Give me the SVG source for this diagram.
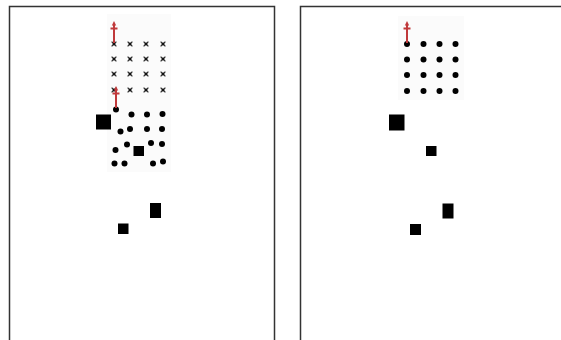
<svg xmlns="http://www.w3.org/2000/svg" width="561" height="340" viewBox="0 0 561 340">
<defs>
<style>
.frame{fill:none;stroke:#333;stroke-width:1.5}
.x{stroke:#333;stroke-width:1.3;fill:none}
.dot{fill:#000}
.sq{fill:#000}
.red{stroke:#c0393b;stroke-width:2;fill:none}
.redh{fill:#c0393b}
.bg{fill:#f8f8f8}
</style>
<g id="xm"><path class="x" d="M-2.4,-2.4L2.4,2.4M-2.4,2.4L2.4,-2.4"/><rect x="-1.3" y="-1.3" width="2.6" height="2.6" fill="#111"/></g>
<g id="arr"><path class="red" d="M0,0V-18M-3.5,-14.5H3.5"/><path class="redh" d="M-2.2,-17.5L0,-22L2.2,-17.5Z"/></g>
</defs>
<rect width="561" height="340" fill="#fff"/>
<g id="left-panel">
<rect class="frame" x="9.5" y="6.5" width="265" height="340"/>
<rect class="bg" x="107" y="14" width="64" height="158" opacity="0.5"/>
<g id="left-xgrid">
<use href="#xm" x="114" y="44"/><use href="#xm" x="130" y="44"/><use href="#xm" x="146" y="44"/><use href="#xm" x="163" y="44"/>
<use href="#xm" x="114" y="59"/><use href="#xm" x="130" y="59"/><use href="#xm" x="146" y="59"/><use href="#xm" x="163" y="59"/>
<use href="#xm" x="114" y="74"/><use href="#xm" x="130" y="74"/><use href="#xm" x="146" y="74"/><use href="#xm" x="163" y="74"/>
<use href="#xm" x="114" y="90"/><use href="#xm" x="130" y="90"/><use href="#xm" x="146" y="90"/><use href="#xm" x="163" y="90"/>
</g>
<g id="left-dots">
<circle class="dot" cx="116" cy="109.5" r="3"/>
<circle class="dot" cx="131.5" cy="114.5" r="3"/><circle class="dot" cx="147" cy="114.5" r="3"/><circle class="dot" cx="162.5" cy="114" r="3"/>
<circle class="dot" cx="120.5" cy="131.5" r="3"/><circle class="dot" cx="130" cy="129" r="3"/><circle class="dot" cx="147" cy="129" r="3"/><circle class="dot" cx="162" cy="129" r="3"/>
<circle class="dot" cx="115.5" cy="150" r="3"/><circle class="dot" cx="127" cy="144.5" r="3"/><circle class="dot" cx="151" cy="143" r="3"/><circle class="dot" cx="162" cy="144" r="3"/>
<circle class="dot" cx="114.5" cy="163.5" r="3"/><circle class="dot" cx="124.5" cy="163.5" r="3"/><circle class="dot" cx="153" cy="163.5" r="3"/><circle class="dot" cx="163" cy="161.5" r="3"/>
</g>
<rect class="sq" x="96" y="114.5" width="15" height="15"/>
<rect class="sq" x="133.5" y="146" width="10.5" height="10"/>
<rect class="sq" x="150" y="203" width="11" height="15"/>
<rect class="sq" x="118" y="223.5" width="10.5" height="10.5"/>
<use href="#arr" x="114" y="43"/>
<use href="#arr" x="116" y="108"/>
</g>
<g id="right-panel">
<rect class="frame" x="300.5" y="6.5" width="280" height="340"/>
<rect class="bg" x="398" y="16" width="66" height="84" opacity="0.5"/>
<g id="right-dots">
<circle class="dot" cx="407" cy="44" r="3"/><circle class="dot" cx="423.5" cy="44" r="3"/><circle class="dot" cx="439.5" cy="44" r="3"/><circle class="dot" cx="455.5" cy="44" r="3"/>
<circle class="dot" cx="407" cy="59.5" r="3"/><circle class="dot" cx="423.5" cy="59.5" r="3"/><circle class="dot" cx="439.5" cy="59.5" r="3"/><circle class="dot" cx="455.5" cy="59.5" r="3"/>
<circle class="dot" cx="407" cy="75" r="3"/><circle class="dot" cx="423.5" cy="75" r="3"/><circle class="dot" cx="439.5" cy="75" r="3"/><circle class="dot" cx="455.5" cy="75" r="3"/>
<circle class="dot" cx="407" cy="91" r="3"/><circle class="dot" cx="423.5" cy="91" r="3"/><circle class="dot" cx="439.5" cy="91" r="3"/><circle class="dot" cx="455.5" cy="91" r="3"/>
</g>
<rect class="sq" x="389" y="114.5" width="15.5" height="16"/>
<rect class="sq" x="426" y="146" width="10.5" height="10"/>
<rect class="sq" x="442.5" y="203.5" width="11" height="15"/>
<rect class="sq" x="410" y="224" width="11" height="11"/>
<use href="#arr" x="407" y="43"/>
</g>
</svg>
